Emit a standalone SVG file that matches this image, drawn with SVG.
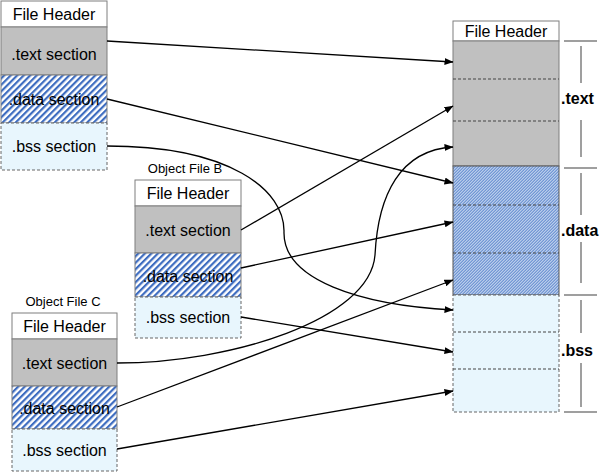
<svg xmlns="http://www.w3.org/2000/svg" width="607" height="472" viewBox="0 0 607 472">
<defs>
<pattern id="hatch" patternUnits="userSpaceOnUse" width="4.6" height="4.6" patternTransform="rotate(45)">
<rect width="4.6" height="4.6" fill="#ffffff"/>
<rect width="2.2" height="4.6" fill="#3d6cc0"/>
</pattern>
<pattern id="hatchFine" patternUnits="userSpaceOnUse" width="2.1213" height="2.1213" patternTransform="rotate(45)">
<rect width="2.1213" height="2.1213" fill="#dbe6f6"/>
<rect width="1.06" height="2.1213" fill="#4f7dc8"/>
</pattern>
<marker id="arr" markerWidth="9" markerHeight="7" refX="8.5" refY="3.5" orient="auto" markerUnits="userSpaceOnUse">
<path d="M0,0 L9,3.5 L0,7 Z" fill="#000"/>
</marker>
</defs>
<style>
.hdr{fill:#fff;stroke:#7f7f7f;stroke-width:1}
.txt{fill:#c0c0c0;stroke:#7f7f7f;stroke-width:1}
.dat{fill:url(#hatch);stroke:#7f7f7f;stroke-width:1}
.bss{fill:#e8f6fd;stroke:#666;stroke-width:1;stroke-dasharray:3,2}
.lbl{font-family:"Liberation Sans",Arial,sans-serif;font-size:16px;fill:#000;text-anchor:middle}
.cap{font-family:"Liberation Sans",Arial,sans-serif;font-size:13px;fill:#000;text-anchor:middle}
.big{font-family:"Liberation Sans",Arial,sans-serif;font-size:16px;font-weight:bold;fill:#000}
.div{stroke:#444;stroke-width:1;stroke-dasharray:3,2;fill:none}
.brk{stroke:#7f7f7f;stroke-width:1.5;fill:none}
.con{stroke:#000;stroke-width:1.3;fill:none;marker-end:url(#arr)}
</style>

<g id="objA">
<rect class="hdr" x="1" y="1" width="106" height="26"/>
<rect class="txt" x="1" y="27" width="106" height="48"/>
<rect class="dat" x="1" y="75" width="106" height="48"/>
<rect class="bss" x="1" y="123" width="106" height="47"/>
<text class="lbl" x="54" y="20">File Header</text>
<text class="lbl" x="54" y="60">.text section</text>
<text class="lbl" x="54" y="105">.data section</text>
<text class="lbl" x="54" y="152">.bss section</text>
</g>

<g id="objB">
<text class="cap" x="185" y="173">Object File B</text>
<rect class="hdr" x="135" y="180" width="106" height="26"/>
<rect class="txt" x="135" y="206" width="106" height="47"/>
<rect class="dat" x="135" y="253" width="106" height="44"/>
<rect class="bss" x="135" y="297" width="106" height="41"/>
<text class="lbl" x="188" y="199">File Header</text>
<text class="lbl" x="188" y="236">.text section</text>
<text class="lbl" x="188" y="282">.data section</text>
<text class="lbl" x="188" y="323">.bss section</text>
</g>

<g id="objC">
<text class="cap" x="63" y="306">Object File C</text>
<rect class="hdr" x="12" y="313" width="105" height="26"/>
<rect class="txt" x="12" y="339" width="105" height="47"/>
<rect class="dat" x="12" y="386" width="105" height="43"/>
<rect class="bss" x="12" y="429" width="105" height="42"/>
<text class="lbl" x="64.5" y="332">File Header</text>
<text class="lbl" x="64.5" y="369">.text section</text>
<text class="lbl" x="64.5" y="414">.data section</text>
<text class="lbl" x="64.5" y="456">.bss section</text>
</g>

<g id="output">
<rect class="hdr" x="453" y="21" width="106" height="20"/>
<rect class="txt" x="453" y="41" width="106" height="125"/>
<rect x="453" y="166" width="106" height="129" fill="url(#hatchFine)" stroke="#555" stroke-width="1"/>
<rect class="bss" x="453" y="295" width="106" height="117"/>
<line class="div" x1="453" y1="79" x2="559" y2="79"/>
<line class="div" x1="453" y1="121" x2="559" y2="121"/>
<line class="div" x1="453" y1="205" x2="559" y2="205"/>
<line class="div" x1="453" y1="253" x2="559" y2="253"/>
<line class="div" x1="453" y1="332" x2="559" y2="332"/>
<line class="div" x1="453" y1="369" x2="559" y2="369"/>
<text class="lbl" x="506" y="37">File Header</text>
</g>

<g id="brackets">
<line class="brk" x1="564" y1="41" x2="597" y2="41"/>
<line class="brk" x1="564" y1="168" x2="597" y2="168"/>
<line class="brk" x1="564" y1="295" x2="597" y2="295"/>
<line class="brk" x1="564" y1="412" x2="597" y2="412"/>
<line class="brk" x1="581" y1="46" x2="581" y2="83"/>
<line class="brk" x1="581" y1="120" x2="581" y2="157"/>
<line class="brk" x1="581" y1="173" x2="581" y2="215"/>
<line class="brk" x1="581" y1="242" x2="581" y2="283"/>
<line class="brk" x1="581" y1="300" x2="581" y2="333"/>
<line class="brk" x1="581" y1="363" x2="581" y2="407"/>
<text class="big" x="561" y="104">.text</text>
<text class="big" x="561" y="236">.data</text>
<text class="big" x="561" y="356">.bss</text>
</g>

<g id="connectors">
<path class="con" d="M107,41 L453,62"/>
<path class="con" d="M107,99 L453,183"/>
<path class="con" d="M107,146 C230,146 285,190 284,232 C283,280 360,305 453,310"/>
<path class="con" d="M241,230 L453,106"/>
<path class="con" d="M241,268 L453,222"/>
<path class="con" d="M241,317 L453,352"/>
<path class="con" d="M117,363 C230,363 370,320 375,255 C378,195 400,150 453,147"/>
<path class="con" d="M117,407 L453,280"/>
<path class="con" d="M117,449 L453,391"/>
</g>
</svg>
